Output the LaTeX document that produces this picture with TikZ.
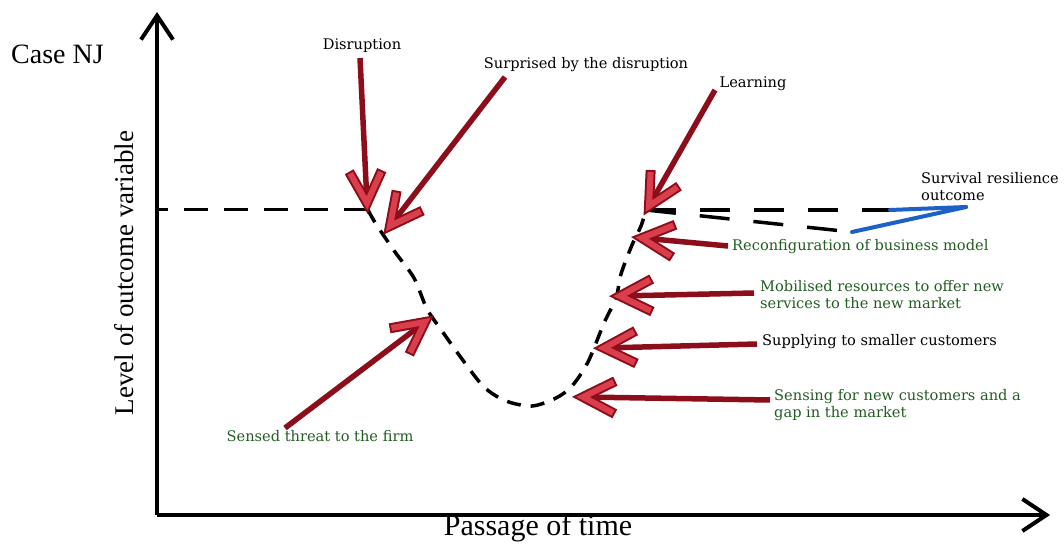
\documentclass[tikz,border=0pt]{standalone}
\usepackage{fontspec}
\setmainfont{Liberation Serif}
\newfontfamily\labelfont{DejaVu Serif}
\usetikzlibrary{arrows.meta,calc}
\definecolor{shaftred}{RGB}{140,14,26}
\definecolor{headred}{RGB}{218,62,76}
\definecolor{labelgreen}{RGB}{34,92,34}
\definecolor{outcomeblue}{RGB}{28,96,200}
\begin{document}
\begin{tikzpicture}[x=1pt,y=-1pt,
  axis/.style={line width=4pt,-{Straight Barb[length=24pt,width=32pt,line width=4pt]}},
  trace/.style={line width=3.5pt,dash pattern=on 14pt off 10pt},
  level/.style={line width=3pt,dash pattern=on 24pt off 16pt},
  shaft/.style={draw=shaftred,line width=5.5pt},
  barbout/.style={draw=shaftred,line width=10pt,line join=miter,miter limit=4},
  barbin/.style={draw=headred,line width=6pt,line join=miter,miter limit=4},
  small/.style={font=\labelfont\fontsize{14.6}{17}\selectfont,inner sep=0pt,align=left},
  greenlabel/.style={small,text=labelgreen},
  blueline/.style={draw=outcomeblue,line width=4pt,line cap=round}]
\useasboundingbox (0,0) rectangle (1064,545);

% axes
\coordinate (O) at (157,515);
\coordinate (ytop) at (157,12);
\coordinate (xend) at (1050,515);
\draw[axis] (O) -- (ytop);
\draw[axis] (O) -- (xend);
\node[font=\fontsize{28}{32}\selectfont,anchor=west,inner sep=0pt] (case) at (11,54) {Case NJ};
\node[font=\fontsize{27}{32}\selectfont,rotate=90,inner sep=0pt] (ylab) at (124,273) {Level of outcome variable};
\node[font=\fontsize{30}{34}\selectfont,inner sep=0pt] (xlab) at (538,528) {Passage of time};

% outcome trace
\coordinate (b0) at (157,210);
\coordinate (b1) at (368,210);
\coordinate (p1) at (646,210);
\coordinate (q1) at (852,232);
\coordinate (h1) at (890,210);
\coordinate (s1) at (966,207);
\draw[level] (b1) -- (b0);
\draw[trace] plot[smooth,tension=0.5] coordinates{(368,210) (376,224) (395,252) (414,278) (427,309) (442,331) (462,359) (484,387) (506,401) (532,406) (556,398) (572,386) (588,362) (604,323) (616,298) (621,274) (632,245) (641,226) (646,210)};
\draw[line width=3.5pt,dash pattern=on 30pt off 24pt] (p1) -- (h1);
\draw[line width=3.5pt,dash pattern=on 30pt off 24pt] (p1) -- (q1);
\draw[blueline] (h1) -- (s1);
\draw[blueline] (q1) -- (s1);

% event labels
\node[small] (disr) at (362,46) {Disruption};
\node[small] (surp) at (586,65) {Surprised by the disruption};
\node[small] (learn) at (753,84) {Learning};
\node[small,anchor=west] (surv) at (921,187) {Survival resilience\\outcome};
\node[greenlabel,anchor=west] (reconf) at (732,247) {Reconfiguration of business model};
\node[greenlabel,anchor=west] (mobil) at (760,295) {Mobilised resources to offer new\\services to the new market};
\node[small,anchor=west] (suppl) at (762,342) {Supplying to smaller customers};
\node[greenlabel,anchor=west] (sens) at (774,405) {Sensing for new customers and a\\gap in the market};
\node[greenlabel] (threat) at (320,436) {Sensed threat to the firm};

% arrow ends
\coordinate (a1) at (360,58);   \coordinate (k1) at (367,203);
\coordinate (a2) at (505,77);   \coordinate (k2) at (390,226);
\coordinate (a3) at (715,90);   \coordinate (k3) at (649,206);
\coordinate (a4) at (728,246);  \coordinate (k4) at (642,238);
\coordinate (a5) at (754,293);  \coordinate (k5) at (620,296);
\coordinate (a6) at (757,344);  \coordinate (k6) at (604,348);
\coordinate (a7) at (770,400);  \coordinate (k7) at (583,397);
\coordinate (a8) at (285,428);  \coordinate (k8) at (425,322);

% red arrows: dark shaft, V-shaped head with light core
\foreach \i in {1,...,8} {
  \draw[shaft] (a\i) -- (k\i);
  \coordinate (l\i) at ($(k\i)!36pt!27:(a\i)$);
  \coordinate (r\i) at ($(k\i)!36pt!-27:(a\i)$);
  \draw[barbout] (l\i) -- (k\i) -- (r\i);
  \draw[barbin] ($(l\i)!2pt!(k\i)$) -- (k\i) -- ($(r\i)!2pt!(k\i)$);
}
\end{tikzpicture}
\end{document}
